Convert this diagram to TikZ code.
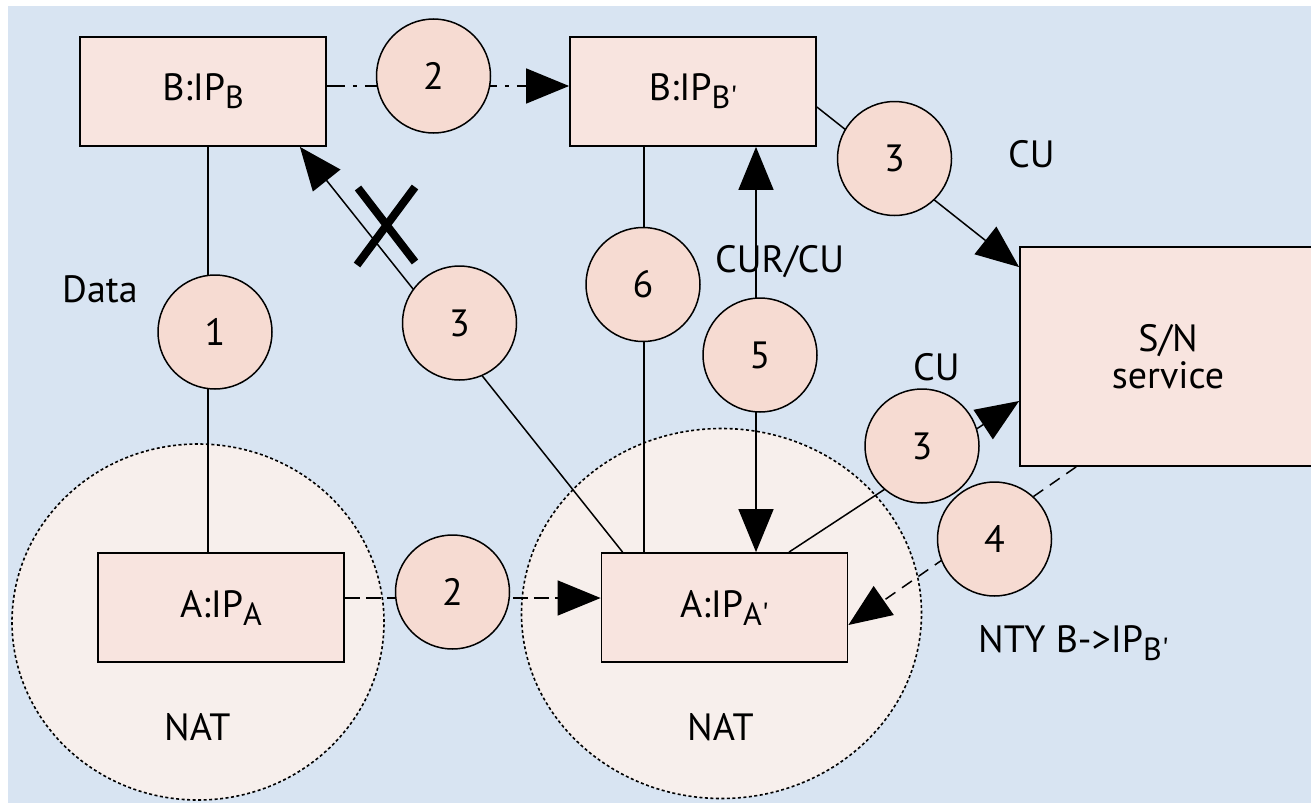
\documentclass[tikz,border=0pt]{standalone}
\usepackage{fontspec}
\setmainfont{PT Sans}
\usetikzlibrary{arrows.meta,calc,shapes.geometric}
\pgfdeclarelayer{back}
\pgfdeclarelayer{mid}
\pgfsetlayers{back,mid,main}
\definecolor{bgblue}{RGB}{216,228,242}
\definecolor{boxpink}{RGB}{248,228,223}
\definecolor{circpink}{RGB}{246,219,210}
\definecolor{natfill}{RGB}{247,239,236}
\newcommand{\lsub}[1]{\raisebox{-8pt}{\fontsize{32}{32}\selectfont #1}}
\begin{document}
\begin{tikzpicture}[x=1pt,y=-1pt,
  txt/.style={font=\fontsize{38}{37}\selectfont},
  lbl/.style={txt, inner sep=0pt, anchor=base west},
  box/.style={txt, draw, line width=1.8pt, fill=boxpink, minimum width=246pt, minimum height=109pt, inner sep=0pt},
  num/.style={txt, draw, line width=1.5pt, fill=circpink, circle, minimum size=114pt, inner sep=0pt},
  nat/.style={draw, line width=1.6pt, fill=natfill, ellipse, inner sep=0pt, dash pattern=on 3pt off 2.5pt},
  conn/.style={line width=1.5pt},
  tip/.style={-{Triangle[length=43pt,width=35pt]}},
  tips/.style={{Triangle[length=43pt,width=35pt]}-{Triangle[length=43pt,width=35pt]}},
  dashdotline/.style={dash pattern=on 18pt off 8pt on 4pt off 8pt},
  dashline/.style={dash pattern=on 15pt off 6pt},
  cross/.style={line width=8pt}
]
\useasboundingbox (0,0) rectangle (1311,803);
\begin{pgfonlayer}{back}
  \fill[white] (0,0) rectangle (1311,803);
  \fill[bgblue] (8,6) rectangle (1311,803);
  \node[nat, minimum width=372pt, minimum height=356pt] (natL) at (198,622) {};
  \node[nat, minimum width=400pt, minimum height=370pt] (natR) at (721.5,613.5) {};
\end{pgfonlayer}

% boxes
\node[box] (B) at (203,91.5) {B:IP\lsub{B}};
\node[box] (Bp) at (693,91.5) {B:IP\lsub{B\textquotesingle}};
\node[box] (A) at (221,607.5) {A:IP\lsub{A}};
\node[box] (Ap) at (724.5,607.5) {A:IP\lsub{A\textquotesingle}};
\node[box, minimum width=296pt, minimum height=219pt, align=center] (SN) at (1168,356.5) {S/N\\service};

% numbered circles
\node[num] (c1) at (215,332) {1};
\node[num] (c2t) at (433.5,76) {2};
\node[num] (c3a) at (459.5,323) {3};
\node[num] (c6) at (643,284.5) {6};
\node[num] (c5) at (760,355) {5};
\node[num] (c3b) at (894.5,158.5) {3};
\node[num] (c3c) at (922,446) {3};
\node[num] (c4) at (994.5,539) {4};
\node[num] (c2b) at (452.5,592) {2};

% labels
\node[lbl] (ldata) at (62,302) {Data};
\node[lbl] (lcu1) at (1008,167) {CU};
\node[lbl] (lcur) at (715,272) {CUR/CU};
\node[lbl] (lcu2) at (913,380) {CU};
\node[lbl] (lnat1) at (164,740) {NAT};
\node[lbl] (lnat2) at (687,740) {NAT};
\node[lbl] (lnty) at (978,652) {NTY B->IP\lsub{B\textquotesingle}};

% connectors
\begin{pgfonlayer}{mid}
  \draw[conn] ([xshift=5pt]B.south) -- ([xshift=-13pt]A.north);
  \draw[conn, dashdotline, tip] ([yshift=5.5pt]B.east) -- ([yshift=5.5pt]Bp.west);
  \draw[conn, dashline, tip] ([yshift=9.5pt]A.east) -- ([yshift=9.5pt]Ap.west);
  \draw[conn, tip] ([xshift=22pt]Ap.north west) -- ([xshift=-27pt]B.south east);
  \draw[conn] ([xshift=-49pt]Bp.south) -- ([xshift=-80.5pt]Ap.north);
  \draw[conn, tips] ([xshift=63pt]Bp.south) -- ([xshift=31.5pt]Ap.north);
  \draw[conn, tip] ([yshift=-15.5pt]Bp.east) -- ([yshift=-21pt]SN.north west);
  \draw[conn, tip] ([xshift=64.5pt]Ap.north) -- ([yshift=-44.5pt]SN.west);
  \draw[conn, dash pattern=on 12pt off 8pt, tip] ([xshift=57pt]SN.south west) -- ([yshift=-17.5pt]Ap.east);
\end{pgfonlayer}

% blocked mark
\draw[cross] (357,265) -- (415,187);
\draw[cross] (358,188) -- (415,262);
\end{tikzpicture}
\end{document}
